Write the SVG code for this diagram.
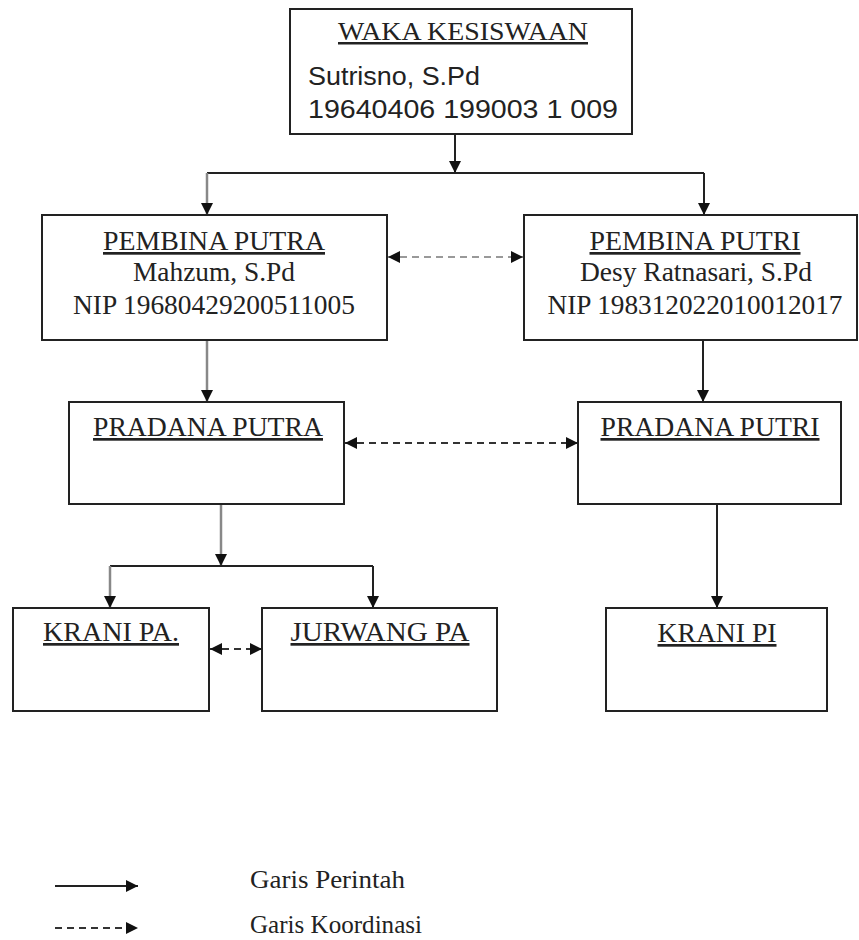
<svg xmlns="http://www.w3.org/2000/svg" width="859" height="940" viewBox="0 0 859 940">
  <defs>
    <marker id="arrow" markerUnits="userSpaceOnUse" markerWidth="12" markerHeight="12" viewBox="0 0 12 12" refX="12" refY="6" orient="auto">
      <path d="M0,0 L12,6 L0,12 Z" fill="#111"/>
    </marker>
    <marker id="arrow-start" markerUnits="userSpaceOnUse" markerWidth="12" markerHeight="12" viewBox="0 0 12 12" refX="0" refY="6" orient="auto">
      <path d="M12,0 L0,6 L12,12 Z" fill="#111"/>
    </marker>
  </defs>
  <style>
    .box { fill: #fff; stroke: #222; stroke-width: 2; }
    .serif { font-family: "Liberation Serif", "Times New Roman", serif; fill: #222; }
    .sans { font-family: "Liberation Sans", Arial, sans-serif; fill: #222; }
    .title { font-size: 27px; text-decoration: underline; }
    .sub { font-size: 27px; }
    .line { fill: none; stroke: #222; stroke-width: 2; }
    .grey { stroke: #888; stroke-width: 2.5; }
    .dash { fill: none; stroke: #333; stroke-width: 2; stroke-dasharray: 7 5; }
    .dash-grey { stroke: #999; }
  </style>
  <rect width="859" height="940" fill="#fff"/>

  <g id="connectors">
    <!-- command lines -->
    <line class="line" x1="455" y1="134" x2="455" y2="173" marker-end="url(#arrow)"/>
    <polyline class="line" points="207,173 704,173"/>
    <line class="line grey" x1="207" y1="173" x2="207" y2="215" marker-end="url(#arrow)"/>
    <line class="line" x1="704" y1="173" x2="704" y2="215" marker-end="url(#arrow)"/>
    <line class="line grey" x1="207" y1="340" x2="207" y2="402" marker-end="url(#arrow)"/>
    <line class="line" x1="703" y1="340" x2="703" y2="402" marker-end="url(#arrow)"/>
    <line class="line grey" x1="221" y1="504" x2="221" y2="566" marker-end="url(#arrow)"/>
    <polyline class="line" points="110,566 373,566"/>
    <line class="line grey" x1="110" y1="566" x2="110" y2="608" marker-end="url(#arrow)"/>
    <line class="line" x1="373" y1="566" x2="373" y2="608" marker-end="url(#arrow)"/>
    <line class="line" x1="717" y1="504" x2="717" y2="608" marker-end="url(#arrow)"/>
    <!-- coordination lines -->
    <line class="dash dash-grey" x1="388" y1="257" x2="523" y2="257" marker-start="url(#arrow-start)" marker-end="url(#arrow)"/>
    <line class="dash" x1="345" y1="443" x2="578" y2="443" marker-start="url(#arrow-start)" marker-end="url(#arrow)"/>
    <line class="dash" x1="210" y1="649" x2="262" y2="649" stroke-dasharray="6 6" marker-start="url(#arrow-start)" marker-end="url(#arrow)"/>
  </g>

  <g id="waka-kesiswaan">
    <rect class="box" x="290" y="9" width="342" height="125"/>
    <text class="serif title" x="463" y="40" text-anchor="middle" style="font-size:25px" textLength="250" lengthAdjust="spacingAndGlyphs">WAKA KESISWAAN</text>
    <text class="sans" x="308" y="85" font-size="25" textLength="172" lengthAdjust="spacingAndGlyphs">Sutrisno, S.Pd</text>
    <text class="sans" x="308" y="118" font-size="25" textLength="310" lengthAdjust="spacingAndGlyphs">19640406 199003 1 009</text>
  </g>

  <g id="pembina-putra">
    <rect class="box" x="42" y="215" width="345" height="125"/>
    <text class="serif title" x="214" y="250" text-anchor="middle" textLength="222" lengthAdjust="spacingAndGlyphs">PEMBINA PUTRA</text>
    <text class="serif sub" x="214" y="281" text-anchor="middle" textLength="162" lengthAdjust="spacingAndGlyphs">Mahzum, S.Pd</text>
    <text class="serif sub" x="214" y="314" text-anchor="middle" textLength="282" lengthAdjust="spacingAndGlyphs">NIP 19680429200511005</text>
  </g>

  <g id="pembina-putri">
    <rect class="box" x="524" y="215" width="333" height="125"/>
    <text class="serif title" x="695" y="250" text-anchor="middle" textLength="211" lengthAdjust="spacingAndGlyphs">PEMBINA PUTRI</text>
    <text class="serif sub" x="696" y="281" text-anchor="middle" textLength="232" lengthAdjust="spacingAndGlyphs">Desy Ratnasari, S.Pd</text>
    <text class="serif sub" x="695" y="314" text-anchor="middle" textLength="295" lengthAdjust="spacingAndGlyphs">NIP 198312022010012017</text>
  </g>

  <g id="pradana-putra">
    <rect class="box" x="69" y="402" width="275" height="102"/>
    <text class="serif title" x="208" y="436" text-anchor="middle" textLength="230" lengthAdjust="spacingAndGlyphs">PRADANA PUTRA</text>
  </g>

  <g id="pradana-putri">
    <rect class="box" x="578" y="402" width="263" height="102"/>
    <text class="serif title" x="710" y="436" text-anchor="middle" textLength="219" lengthAdjust="spacingAndGlyphs">PRADANA PUTRI</text>
  </g>

  <g id="krani-pa">
    <rect class="box" x="13" y="608" width="196" height="103"/>
    <text class="serif title" x="111" y="641" text-anchor="middle" textLength="136" lengthAdjust="spacingAndGlyphs">KRANI PA.</text>
  </g>

  <g id="jurwang-pa">
    <rect class="box" x="262" y="608" width="235" height="103"/>
    <text class="serif title" x="380" y="641" text-anchor="middle" textLength="179" lengthAdjust="spacingAndGlyphs">JURWANG PA</text>
  </g>

  <g id="krani-pi">
    <rect class="box" x="606" y="608" width="221" height="103"/>
    <text class="serif title" x="717" y="642" text-anchor="middle" textLength="119" lengthAdjust="spacingAndGlyphs">KRANI PI</text>
  </g>

  <g id="legend">
    <line class="line" x1="55" y1="886" x2="138" y2="886" stroke="#555" stroke-width="2.5" marker-end="url(#arrow)"/>
    <line class="dash" x1="55" y1="928" x2="138" y2="928" stroke="#777" stroke-width="2" stroke-dasharray="6 4" marker-end="url(#arrow)"/>
    <text class="serif" x="250" y="888" font-size="26" textLength="155" lengthAdjust="spacingAndGlyphs">Garis Perintah</text>
    <text class="serif" x="250" y="933" font-size="26" textLength="172" lengthAdjust="spacingAndGlyphs">Garis Koordinasi</text>
  </g>
</svg>
